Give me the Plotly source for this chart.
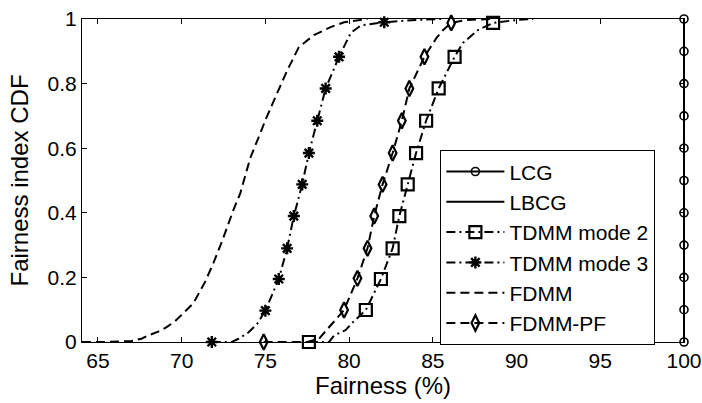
import plotly.graph_objects as go

# ---- data -------------------------------------------------------------
# LCG / LBCG: every user reaches 100 % fairness
lcg_x = [100] * 11
lcg_y = [0, 0.1, 0.2, 0.3, 0.4, 0.5, 0.6, 0.7, 0.8, 0.9, 1.0]
lbcg_x = [100, 100]
lbcg_y = [0, 1]

# TDMM mode 2 (CDF curve and marker samples)
tdmm2_x = [77.6, 78.8, 79.1, 79.8, 80.2, 81.0, 81.9, 82.6, 83.0, 83.5, 84.0,
           84.6, 85.35, 86.3, 86.8, 87.7, 88.6, 90.0, 91.0]
tdmm2_y = [0, 0, 0.02, 0.037, 0.06, 0.099, 0.195, 0.29, 0.39, 0.488, 0.585,
           0.685, 0.785, 0.883, 0.926, 0.966, 0.988, 0.997, 1.0]
tdmm2_mx = [77.6, 81.0, 81.9, 82.6, 83.0, 83.5, 84.0, 84.6, 85.35, 86.3, 88.6]
tdmm2_my = [0, 0.099, 0.195, 0.29, 0.39, 0.488, 0.585, 0.685, 0.785, 0.883, 0.988]

# TDMM mode 3
tdmm3_x = [71.8, 73.0, 73.4, 74.0, 74.5, 75.0, 75.8, 76.3, 76.7, 77.2, 77.6,
           78.1, 78.6, 79.4, 80.1, 80.7, 82.1, 84.0, 85.5]
tdmm3_y = [0, 0, 0.01, 0.03, 0.055, 0.097, 0.195, 0.29, 0.39, 0.488, 0.585,
           0.685, 0.785, 0.883, 0.957, 0.98, 0.99, 0.997, 1.0]
tdmm3_mx = [71.8, 75.0, 75.8, 76.3, 76.7, 77.2, 77.6, 78.1, 78.6, 79.4, 82.1]
tdmm3_my = [0, 0.097, 0.195, 0.29, 0.39, 0.488, 0.585, 0.685, 0.785, 0.883, 0.99]

# FDMM
fdmm_x = [64.05, 65.5, 67.0, 67.6, 68.0, 68.6, 69.1, 69.6, 70.0, 70.7, 71.4,
          71.9, 72.4, 73.1, 73.5, 74.1, 74.8, 75.0, 75.7, 76.3, 77.0, 77.9,
          78.9, 79.7, 81.1]
fdmm_y = [0, 0, 0.003, 0.01, 0.02, 0.032, 0.046, 0.064, 0.084, 0.12, 0.186,
          0.245, 0.31, 0.41, 0.46, 0.57, 0.66, 0.687, 0.77, 0.84, 0.913, 0.95,
          0.975, 0.99, 1.0]

# FDMM-PF
fdmmpf_x = [74.9, 77.5, 78.2, 78.5, 78.9, 79.7, 80.5, 81.1, 81.5, 82.0, 82.6,
            83.15, 83.6, 84.5, 85.2, 85.6, 86.1, 87.0, 88.5]
fdmmpf_y = [0, 0, 0.01, 0.028, 0.053, 0.099, 0.197, 0.29, 0.39, 0.488, 0.585,
            0.685, 0.785, 0.883, 0.94, 0.965, 0.988, 0.997, 1.0]
fdmmpf_mx = [74.9, 79.7, 80.5, 81.1, 81.5, 82.0, 82.6, 83.15, 83.6, 84.5, 86.1]
fdmmpf_my = [0, 0.099, 0.197, 0.29, 0.39, 0.488, 0.585, 0.685, 0.785, 0.883, 0.988]

x_ticks = [65, 70, 75, 80, 85, 90, 95, 100]
y_ticks = [0, 0.2, 0.4, 0.6, 0.8, 1.0]
y_tick_text = ["0", "0.2", "0.4", "0.6", "0.8", "1"]

# ---- styles -----------------------------------------------------------
FONT = "Arial, Liberation Sans, sans-serif"
DASH = "9px,5px"
DASHDOT = "9px,4px,2px,4px"
BLACK = "black"

fig = go.Figure()


def add_series(name, cx, cy, mx, my, dash, symbol, msize, mline=1.6):
    # curve without markers
    fig.add_trace(go.Scatter(x=cx, y=cy, mode="lines", showlegend=False,
                             line=dict(color=BLACK, width=2, dash=dash),
                             hoverinfo="skip", cliponaxis=False))
    # sparse marker samples
    if mx is not None:
        fig.add_trace(go.Scatter(x=mx, y=my, mode="markers", showlegend=False,
                                 marker=dict(symbol=symbol, size=msize, color=BLACK,
                                             line=dict(color=BLACK, width=mline)),
                                 cliponaxis=False))
    # legend entry
    fig.add_trace(go.Scatter(x=[None], y=[None],
                             mode="lines+markers" if mx is not None else "lines",
                             name=name,
                             line=dict(color=BLACK, width=2, dash=dash),
                             marker=dict(symbol=symbol, size=msize, color=BLACK,
                                         line=dict(color=BLACK, width=mline))))


add_series("LCG", lcg_x, lcg_y, lcg_x, lcg_y, "solid", "circle-open", 8)
add_series("LBCG", lbcg_x, lbcg_y, None, None, "solid", None, 0)
add_series("TDMM mode 2", tdmm2_x, tdmm2_y, tdmm2_mx, tdmm2_my, DASHDOT,
           "square-open", 12, 2.2)
add_series("TDMM mode 3", tdmm3_x, tdmm3_y, tdmm3_mx, tdmm3_my, DASHDOT,
           "asterisk-open", 10, 2.4)
add_series("FDMM", fdmm_x, fdmm_y, None, None, DASH, None, 0)
add_series("FDMM-PF", fdmmpf_x, fdmmpf_y, fdmmpf_mx, fdmmpf_my, DASH,
           "diamond-tall-open", 11, 2.2)

axis_common = dict(showline=True, linecolor=BLACK, linewidth=1.2, mirror="ticks",
                   ticks="inside", ticklen=5, tickcolor=BLACK, showgrid=False,
                   zeroline=False, automargin=False,
                   tickfont=dict(family=FONT, size=21, color=BLACK))

fig.update_xaxes(range=[64.05, 100], tickvals=x_ticks,
                 title=dict(text="Fairness (%)", standoff=2,
                            font=dict(family=FONT, size=24, color=BLACK)),
                 **axis_common)
fig.update_yaxes(range=[0, 1], tickvals=y_ticks, ticktext=y_tick_text,
                 title=dict(text="Fairness index CDF", standoff=12,
                            font=dict(family=FONT, size=24, color=BLACK)),
                 **axis_common)

fig.update_layout(
    width=702, height=403,
    margin=dict(l=82, r=18, t=19, b=61),
    paper_bgcolor="white", plot_bgcolor="white",
    font=dict(family=FONT, color=BLACK),
    legend=dict(x=0.595, y=0.594, xanchor="left", yanchor="top",
                bgcolor="white", bordercolor=BLACK, borderwidth=1.2,
                font=dict(family=FONT, size=21, color=BLACK),
                itemwidth=58, tracegroupgap=0),
    showlegend=True,
)

fig.write_html("out.html")
